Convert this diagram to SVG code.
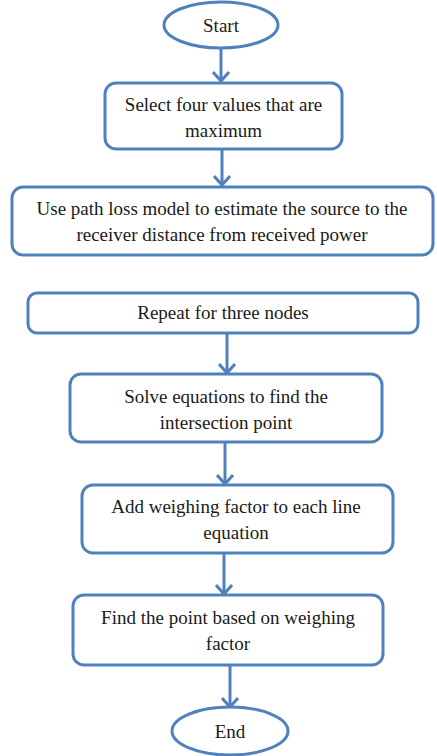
<svg xmlns="http://www.w3.org/2000/svg" width="437" height="756" viewBox="0 0 437 756">
<style>
.b{fill:#fff;stroke:#4f81bd;stroke-width:3}
.t{font-family:'Liberation Serif','Times New Roman',serif;font-size:19px;fill:#1a1a1a;text-anchor:middle}
.c{fill:none;stroke:#4f81bd;stroke-width:3}
</style>
<defs>
<marker id="ah" markerUnits="userSpaceOnUse" viewBox="0 0 12 18" markerWidth="12" markerHeight="18" refX="10" refY="9" orient="auto">
<path d="M1,1 L10,9 L1,17" fill="none" stroke="#4f81bd" stroke-width="3"/>
</marker>
</defs>
<rect width="437" height="756" fill="#fff"/>
<g id="connectors">
<line class="c" x1="221" y1="48" x2="221" y2="81" marker-end="url(#ah)"/>
<line class="c" x1="222" y1="149" x2="222" y2="185" marker-end="url(#ah)"/>
<line class="c" x1="227" y1="333" x2="227" y2="373" marker-end="url(#ah)"/>
<line class="c" x1="225" y1="442" x2="225" y2="484" marker-end="url(#ah)"/>
<line class="c" x1="224" y1="553" x2="224" y2="594" marker-end="url(#ah)"/>
<line class="c" x1="230" y1="665" x2="230" y2="707" marker-end="url(#ah)"/>
</g>
<g id="start">
<ellipse class="b" cx="221" cy="25" rx="57" ry="23"/>
<text class="t" x="221" y="32">Start</text>
</g>
<g id="select">
<rect class="b" x="105" y="83" width="237" height="66" rx="11"/>
<text class="t" x="223.5" y="111">Select four values that are</text>
<text class="t" x="223.5" y="137">maximum</text>
</g>
<g id="pathloss">
<rect class="b" x="12" y="187" width="421" height="68" rx="11"/>
<text class="t" x="222" y="215">Use path loss model to estimate the source to the</text>
<text class="t" x="222" y="241">receiver distance from received power</text>
</g>
<g id="repeat">
<rect class="b" x="28" y="293" width="390" height="40" rx="9"/>
<text class="t" x="223" y="319">Repeat for three nodes</text>
</g>
<g id="solve">
<rect class="b" x="70" y="374" width="312" height="68" rx="11"/>
<text class="t" x="226" y="403">Solve equations to find the</text>
<text class="t" x="226" y="429">intersection point</text>
</g>
<g id="weigh">
<rect class="b" x="82" y="485" width="311" height="68" rx="11"/>
<text class="t" x="236" y="513">Add weighing factor to each line</text>
<text class="t" x="236" y="539">equation</text>
</g>
<g id="find">
<rect class="b" x="73" y="595" width="310" height="70" rx="11"/>
<text class="t" x="228" y="624">Find the point based on weighing</text>
<text class="t" x="228" y="650">factor</text>
</g>
<g id="end">
<ellipse class="b" cx="230" cy="731" rx="58" ry="24"/>
<text class="t" x="230" y="738">End</text>
</g>
</svg>
